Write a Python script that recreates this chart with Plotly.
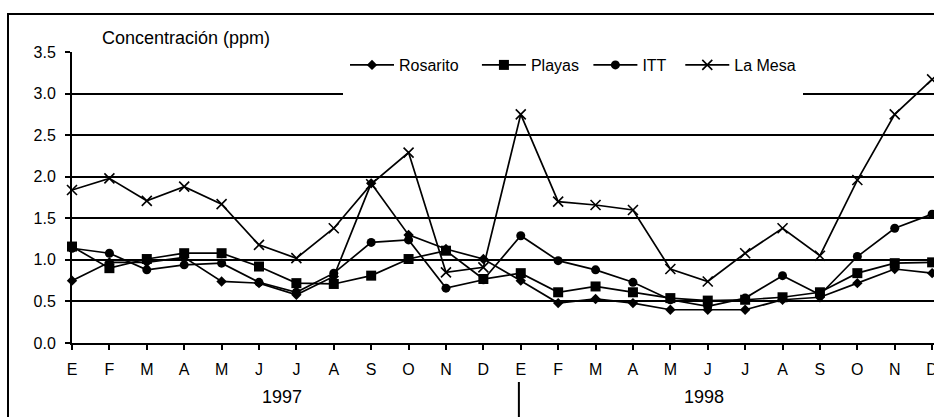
import plotly.graph_objects as go

months = ["E", "F", "M", "A", "M", "J", "J", "A", "S", "O", "N", "D",
          "E", "F", "M", "A", "M", "J", "J", "A", "S", "O", "N", "D"]
years = ["1997", "1998"]

rosarito = [0.75, 0.97, 0.97, 1.03, 0.74, 0.72, 0.58, 0.80, 1.92, 1.30, 1.13, 1.01,
            0.75, 0.48, 0.53, 0.48, 0.40, 0.40, 0.40, 0.52, 0.55, 0.72, 0.89, 0.84]
playas = [1.16, 0.90, 1.01, 1.08, 1.08, 0.92, 0.72, 0.71, 0.81, 1.01, 1.11, 0.77,
          0.84, 0.61, 0.68, 0.61, 0.54, 0.51, 0.52, 0.55, 0.61, 0.84, 0.96, 0.97]
itt = [1.14, 1.08, 0.88, 0.94, 0.96, 0.73, 0.61, 0.84, 1.21, 1.24, 0.66, 0.76,
       1.29, 0.99, 0.88, 0.73, 0.52, 0.44, 0.54, 0.81, 0.58, 1.04, 1.38, 1.55]
la_mesa = [1.84, 1.98, 1.71, 1.88, 1.67, 1.18, 1.02, 1.38, 1.91, 2.29, 0.85, 0.91,
           2.75, 1.70, 1.66, 1.60, 0.89, 0.74, 1.08, 1.38, 1.05, 1.96, 2.75, 3.17]

x = list(range(len(months)))
FONT = "Liberation Sans, Arial, sans-serif"
NB = "\u00a0"

W, H = 934, 417
L, R, T, B = 72, 0, 52, 74
pw, ph = W - L - R, H - T - B

def px(v):
    return (v - L) / pw

def py(v):
    return (H - B - v) / ph

fig = go.Figure()
series = [
    ("Rosarito" + NB * 3, rosarito, dict(symbol="diamond", size=8)),
    ("Playas" + NB, playas, dict(symbol="square", size=10)),
    ("ITT" + NB * 2, itt, dict(symbol="circle", size=9)),
    ("La Mesa", la_mesa, dict(symbol="x-thin-open", size=10, line=dict(width=1.6, color="black"))),
]
for name, vals, mk in series:
    fig.add_trace(go.Scatter(
        x=x, y=vals, name=name, mode="lines+markers",
        line=dict(color="black", width=1.7),
        marker=dict(color="black", **mk),
        cliponaxis=False,
    ))

shapes = [
    dict(type="rect", xref="paper", yref="paper", x0=px(343), x1=px(803),
         y0=py(99), y1=py(47), fillcolor="white", line=dict(width=0), layer="above"),
    dict(type="rect", xref="paper", yref="paper", x0=px(8), x1=px(960),
         y0=py(440), y1=py(14), line=dict(color="black", width=2), fillcolor="rgba(0,0,0,0)"),
    dict(type="line", xref="x", yref="paper", x0=11.95, x1=11.95,
         y0=py(382), y1=py(440), line=dict(color="black", width=2)),
]

annotations = [
    dict(text="Concentración (ppm)", xref="paper", yref="paper", x=px(100), y=py(38),
         xanchor="left", yanchor="middle", showarrow=False,
         font=dict(family=FONT, size=18, color="black")),
    dict(text=years[0], xref="paper", yref="paper", x=px(282), y=py(397),
         xanchor="center", yanchor="middle", showarrow=False,
         font=dict(family=FONT, size=18, color="black")),
    dict(text=years[1], xref="paper", yref="paper", x=px(704), y=py(397),
         xanchor="center", yanchor="middle", showarrow=False,
         font=dict(family=FONT, size=18, color="black")),
]

fig.update_layout(
    width=W, height=H,
    margin=dict(l=L, r=R, t=T, b=B, pad=0),
    paper_bgcolor="white", plot_bgcolor="white",
    font=dict(family=FONT, size=16, color="black"),
    showlegend=True,
    legend=dict(orientation="h", x=px(345), y=py(65), xanchor="left", yanchor="middle",
                bgcolor="rgba(0,0,0,0)", font=dict(size=16), itemwidth=44,
                traceorder="normal"),
    shapes=shapes, annotations=annotations,
    xaxis=dict(range=[0, 23.05], tickmode="array", tickvals=x, ticktext=months,
               showgrid=False, zeroline=False, showline=True, linecolor="black", linewidth=2,
               ticks="outside", ticklen=5, tickwidth=1.5, tickcolor="black",
               ticklabelstandoff=6, tickfont=dict(size=16), automargin=False,
               ticklabeloverflow="allow"),
    yaxis=dict(range=[0, 3.5], tickmode="array", tickvals=[0, 0.5, 1, 1.5, 2, 2.5, 3, 3.5],
               ticktext=["0.0", "0.5", "1.0", "1.5", "2.0", "2.5", "3.0", "3.5"],
               showgrid=True, gridcolor="black", gridwidth=2, zeroline=False,
               showline=True, linecolor="black", linewidth=2,
               ticks="outside", ticklen=5, tickwidth=1.5, tickcolor="black",
               ticklabelstandoff=6, tickfont=dict(size=16), automargin=False),
)

fig.write_html("out.html", config={"displayModeBar": False},
               post_script="document.body.style.margin='0';document.body.style.overflow='hidden';")
